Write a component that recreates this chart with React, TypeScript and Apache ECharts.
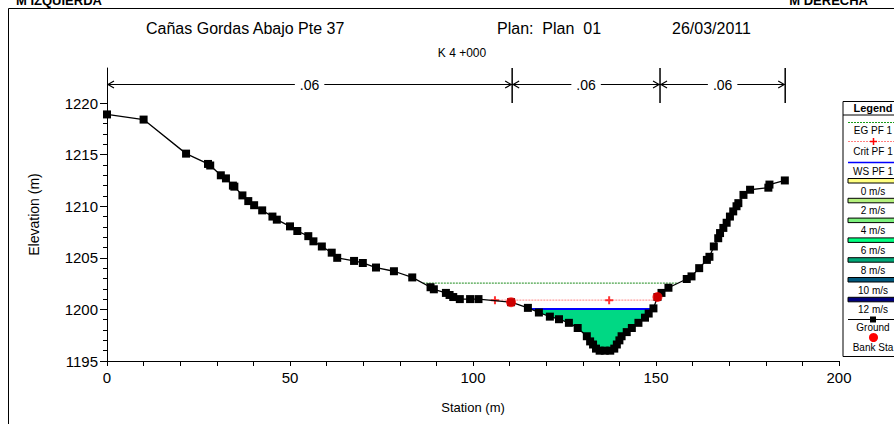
import React, { useEffect, useRef } from 'react';
import * as echarts from 'echarts';

const FONT = '"Liberation Sans", Arial, Helvetica, sans-serif';

// Ground profile (station m, elevation m)
const groundStation = [0, 10, 21.6, 27.6, 28.2, 31.1, 32.5, 34.4, 34.8, 37.0, 38.6, 40.2, 42.4, 45.2, 46.4, 50.0, 52.0, 55.0, 56.4, 58.7, 61.4, 62.9, 67.5, 69.9, 73.5, 78.4, 83.4, 88.4, 89.3, 92.6, 93.6, 94.6, 96.4, 99.2, 101.5, 110.4, 115.0, 118.0, 121.0, 123.5, 126.2, 128.6, 131.1, 132.0, 132.8, 133.6, 134.6, 136.0, 137.5, 138.6, 139.3, 140.0, 140.6, 142.0, 143.4, 145.2, 147.0, 148.0, 149.3, 150.4, 151.5, 153.4, 158.4, 159.7, 161.8, 163.9, 164.6, 165.8, 167.0, 167.5, 168.4, 169.3, 170.2, 171.1, 172.0, 172.5, 173.9, 175.7, 180.7, 181.0, 185.2];
const groundElev = [1218.9, 1218.4, 1215.1, 1214.1, 1213.95, 1213.0, 1212.7, 1212.0, 1211.9, 1211.05, 1210.5, 1210.1, 1209.6, 1209.0, 1208.7, 1208.05, 1207.6, 1207.1, 1206.6, 1206.1, 1205.5, 1205.0, 1204.7, 1204.5, 1204.06, 1203.7, 1203.1, 1202.15, 1201.95, 1201.6, 1201.4, 1201.2, 1201.0, 1201.0, 1201.0, 1200.7, 1200.15, 1199.7, 1199.3, 1199.05, 1198.7, 1198.2, 1197.4, 1196.9, 1196.6, 1196.2, 1196.0, 1196.0, 1196.0, 1196.2, 1196.6, 1197.0, 1197.4, 1197.8, 1198.2, 1198.7, 1199.2, 1199.6, 1200.1, 1201.2, 1201.6, 1202.1, 1202.95, 1203.2, 1204.0, 1204.8, 1205.1, 1206.1, 1206.9, 1207.4, 1207.9, 1208.4, 1209.0, 1209.5, 1210.0, 1210.3, 1211.1, 1211.6, 1211.8, 1212.1, 1212.5];

const bankStation = [110.4, 150.4];
const bankElev = [1200.7, 1201.2];

const wsElev = 1200.05; // WS PF 1
const egElev = 1202.55; // EG PF 1
const critElev = 1200.9; // Crit PF 1
const critMarkStation = [106, 137.2];

const nValueStation = [0, 110.7, 151.1, 185.3];
const nValueLabel = ['.06', '.06', '.06'];
const nValueLineElev = 1221.8;

const xMin = 0;
const xMax = 200;
const yMin = 1195;
const yMax = 1223.4;
const yLabelValues = [1195, 1200, 1205, 1210, 1215, 1220];
const yMinorValues = [1196, 1197, 1198, 1199, 1201, 1202, 1203, 1204, 1206, 1207, 1208, 1209, 1211, 1212, 1213, 1214, 1216, 1217, 1218, 1219];

const titleMain = 'Cañas Gordas Abajo Pte 37';
const titlePlan = 'Plan:  Plan  01';
const titleDate = '26/03/2011';
const subTitle = 'K 4 +000';

const legendVelocity = ['0 m/s', '2 m/s', '4 m/s', '6 m/s', '8 m/s', '10 m/s', '12 m/s'];
const legendVelocityColor = ['#FFFF80', '#B4F07C', '#7CF07C', '#00FF80', '#00A878', '#00587C', '#00007C'];

function leftCross(level: number): number {
  for (let i = 0; i < groundStation.length - 1; i++) {
    const e1 = groundElev[i], e2 = groundElev[i + 1];
    if (e1 >= level && e2 < level) {
      return groundStation[i] + ((e1 - level) / (e1 - e2)) * (groundStation[i + 1] - groundStation[i]);
    }
  }
  return groundStation[0];
}
function rightCross(level: number): number {
  for (let i = groundStation.length - 2; i >= 0; i--) {
    const e1 = groundElev[i], e2 = groundElev[i + 1];
    if (e1 < level && e2 >= level) {
      return groundStation[i] + ((level - e1) / (e2 - e1)) * (groundStation[i + 1] - groundStation[i]);
    }
  }
  return groundStation[groundStation.length - 1];
}

export default function App() {
  const ref = useRef<HTMLDivElement>(null);
  useEffect(() => {
    if (!ref.current) return;
    const chart = echarts.init(ref.current, undefined, { renderer: 'svg' });

    const groundData = groundStation.map((s, i) => [s, groundElev[i]]);
    const wsL = leftCross(wsElev), wsR = rightCross(wsElev);
    const egL = leftCross(egElev), egR = rightCross(egElev);
    const crL = leftCross(critElev), crR = rightCross(critElev);
    const waterPoly: number[][] = [[wsL, wsElev]];
    groundStation.forEach((s, i) => {
      if (s > wsL && s < wsR) waterPoly.push([s, groundElev[i]]);
    });
    waterPoly.push([wsR, wsElev]);

    const nData = nValueLabel.map((l, i) => [nValueStation[i], nValueStation[i + 1], i]);

    const lx = 843; // legend left
    const lc = 873; // legend text center
    const legText = (t: string, y: number, bold = false) => ({
      type: 'text', x: lc, y, z: 101,
      style: { text: t, font: `${bold ? 'bold 11px' : '10px'} ${FONT}`, fill: '#000', align: 'center', verticalAlign: 'middle' },
    });
    const legBox = (y: number, color: string) => ({
      type: 'rect', z: 101, shape: { x: 848, y: y, width: 60, height: 4.5 },
      style: { fill: color, stroke: '#000', lineWidth: 1 },
    });
    const legendEls: any[] = [
      { type: 'rect', z: 100, shape: { x: lx, y: 101.5, width: 80, height: 255 }, style: { fill: '#fff', stroke: '#000', lineWidth: 1 } },
      legText('Legend', 107.5, true),
      { type: 'line', z: 101, shape: { x1: lx, y1: 115, x2: lx + 80, y2: 115 }, style: { stroke: '#000', lineWidth: 1 } },
      { type: 'line', z: 101, shape: { x1: 848, y1: 122.5, x2: 900, y2: 122.5 }, style: { stroke: '#1A9A1A', lineWidth: 1, lineDash: [2, 1] } },
      legText('EG PF 1', 130.5),
      { type: 'line', z: 101, shape: { x1: 848, y1: 141.5, x2: 900, y2: 141.5 }, style: { stroke: '#FF8080', lineWidth: 1, lineDash: [2, 1] } },
      { type: 'line', z: 102, shape: { x1: 870, y1: 141.5, x2: 877, y2: 141.5 }, style: { stroke: '#FF0000', lineWidth: 1.5 } },
      { type: 'line', z: 102, shape: { x1: 873.5, y1: 138, x2: 873.5, y2: 145 }, style: { stroke: '#FF0000', lineWidth: 1.5 } },
      legText('Crit PF 1', 151),
      { type: 'line', z: 101, shape: { x1: 848, y1: 162.5, x2: 900, y2: 162.5 }, style: { stroke: '#0000FF', lineWidth: 1.5 } },
      legText('WS PF 1', 171),
    ];
    legendVelocity.forEach((t, i) => {
      const y0 = 178.5 + i * 19.8;
      legendEls.push(legBox(y0, legendVelocityColor[i]));
      legendEls.push(legText(t, y0 + 12.5));
    });
    legendEls.push({ type: 'line', z: 101, shape: { x1: 848, y1: 319.5, x2: 900, y2: 319.5 }, style: { stroke: '#000', lineWidth: 1 } });
    legendEls.push({ type: 'rect', z: 102, shape: { x: 870, y: 316.5, width: 6, height: 6 }, style: { fill: '#000' } });
    legendEls.push(legText('Ground', 327.5));
    legendEls.push({ type: 'circle', z: 102, shape: { cx: 873.5, cy: 337.5, r: 4.5 }, style: { fill: '#FF0000' } });
    legendEls.push(legText('Bank Sta', 347.5));

    const option: any = {
      animation: false,
      backgroundColor: '#fff',
      grid: { left: 107, right: 55, top: 68, bottom: 63, containLabel: false },
      xAxis: {
        type: 'value', min: xMin, max: xMax, interval: 10,
        name: 'Station (m)', nameLocation: 'middle', nameGap: 40,
        nameTextStyle: { fontFamily: FONT, fontSize: 13, color: '#000' },
        axisLine: { show: true, onZero: false, lineStyle: { color: '#000', width: 1 } },
        axisTick: { show: true, length: 5, lineStyle: { color: '#000' } },
        axisLabel: {
          fontFamily: FONT, fontSize: 15, color: '#000', margin: 9,
          formatter: (v: number) => (v % 50 === 0 ? String(v) : ''),
        },
        splitLine: { show: false },
      },
      yAxis: [
        {
          type: 'value', min: yMin, max: yMax,
          name: 'Elevation (m)', nameLocation: 'middle', nameGap: 66,
          nameTextStyle: { fontFamily: FONT, fontSize: 14, color: '#000' },
          axisLine: { show: true, lineStyle: { color: '#000', width: 1 } },
          axisTick: { show: true, length: 7, customValues: yLabelValues, lineStyle: { color: '#000' } },
          axisLabel: {
            fontFamily: FONT, fontSize: 15, color: '#000', margin: 9, customValues: yLabelValues,
            formatter: (v: number) => String(Math.round(v)),
          },
          splitLine: { show: false },
        },
        {
          type: 'value', min: yMin, max: yMax, position: 'left', offset: 0,
          axisLine: { show: false },
          axisTick: { show: true, length: 4, customValues: yMinorValues, lineStyle: { color: '#000' } },
          axisLabel: { show: false },
          splitLine: { show: false },
        },
      ],
      graphic: [
        { type: 'rect', z: 0, shape: { x: 8.5, y: 8.5, width: 1000, height: 1000 }, style: { fill: 'none', stroke: '#000', lineWidth: 1 } },
        { type: 'text', x: 16, y: 0, style: { text: 'M IZQUIERDA', font: `bold 13px ${FONT}`, fill: '#000', align: 'left', verticalAlign: 'middle' } },
        { type: 'text', x: 868, y: 0, style: { text: 'M DERECHA', font: `bold 13px ${FONT}`, fill: '#000', align: 'right', verticalAlign: 'middle' } },
        { type: 'text', x: 146, y: 28, style: { text: titleMain, font: `16px ${FONT}`, fill: '#000', align: 'left', verticalAlign: 'middle' } },
        { type: 'text', x: 497, y: 28, style: { text: titlePlan, font: `16px ${FONT}`, fill: '#000', align: 'left', verticalAlign: 'middle' } },
        { type: 'text', x: 672, y: 28, style: { text: titleDate, font: `16px ${FONT}`, fill: '#000', align: 'left', verticalAlign: 'middle' } },
        { type: 'text', x: 462, y: 53, style: { text: subTitle, font: `12px ${FONT}`, fill: '#000', align: 'center', verticalAlign: 'middle' } },
        ...legendEls,
      ],
      series: [
        {
          type: 'custom', name: 'water', z: 1, clip: true,
          data: [[wsL, wsElev]],
          renderItem: (params: any, api: any) => ({
            type: 'polygon',
            shape: { points: waterPoly.map((p) => api.coord(p)) },
            style: { fill: '#00D884' },
          }),
        },
        {
          type: 'line', name: 'EG PF 1', z: 2, symbol: 'none',
          data: [[egL, egElev], [egR, egElev]],
          lineStyle: { color: '#1A8A1A', width: 1, type: [2, 1] },
        },
        {
          type: 'line', name: 'Crit PF 1', z: 2, symbol: 'none',
          data: [[crL, critElev], [crR, critElev]],
          lineStyle: { color: '#FF9A9A', width: 1.2, type: [2, 1] },
        },
        {
          type: 'scatter', name: 'Crit marks', z: 3,
          symbol: 'path://M3,0h2v3h3v2h-3v3h-2v-3h-3v-2h3z', symbolSize: 8,
          itemStyle: { color: '#FF0000' },
          data: critMarkStation.map((s) => [s, critElev]),
        },
        {
          type: 'line', name: 'WS PF 1', z: 3, symbol: 'none',
          data: [[wsL, wsElev], [wsR, wsElev]],
          lineStyle: { color: '#0000FF', width: 2 },
        },
        {
          type: 'line', name: 'Ground', z: 4,
          data: groundData,
          symbol: 'rect', symbolSize: 8, showAllSymbol: true,
          itemStyle: { color: '#000' },
          lineStyle: { color: '#000', width: 1.3 },
        },
        {
          type: 'scatter', name: 'Bank Sta', z: 5,
          symbol: 'circle', symbolSize: 10,
          itemStyle: { color: '#FF0000' },
          data: bankStation.map((s, i) => [s, bankElev[i]]),
        },
        {
          type: 'custom', name: 'n values', z: 6, clip: false,
          data: nData,
          renderItem: (params: any, api: any) => {
            const s = api.value(0), e = api.value(1), idx = api.value(2);
            const p1 = api.coord([s, nValueLineElev]);
            const p2 = api.coord([e, nValueLineElev]);
            const top = api.coord([e, yMax])[1];
            const bot = api.coord([e, 1220])[1];
            const y = p1[1];
            const children: any[] = [
              { type: 'line', shape: { x1: p1[0], y1: y, x2: p2[0], y2: y }, style: { stroke: '#000', lineWidth: 1.2 } },
              { type: 'polyline', shape: { points: [[p1[0] + 7, y - 3.5], [p1[0] + 1, y], [p1[0] + 7, y + 3.5]] }, style: { stroke: '#000', lineWidth: 1.2, fill: 'none' } },
              { type: 'polyline', shape: { points: [[p2[0] - 7, y - 3.5], [p2[0] - 1, y], [p2[0] - 7, y + 3.5]] }, style: { stroke: '#000', lineWidth: 1.2, fill: 'none' } },
              { type: 'line', shape: { x1: p2[0], y1: top, x2: p2[0], y2: bot }, style: { stroke: '#000', lineWidth: 1.5 } },
              {
                type: 'text', x: (p1[0] + p2[0]) / 2, y,
                style: { text: nValueLabel[idx], font: `14px ${FONT}`, fill: '#000', align: 'center', verticalAlign: 'middle', backgroundColor: '#fff', padding: [0, 5] },
              },
            ];
            return { type: 'group', children };
          },
        },
      ],
    };
    chart.setOption(option);
    return () => chart.dispose();
  }, []);
  return <div ref={ref} style={{ position: 'absolute', left: 0, top: 0, width: 894, height: 424 }} />;
}
